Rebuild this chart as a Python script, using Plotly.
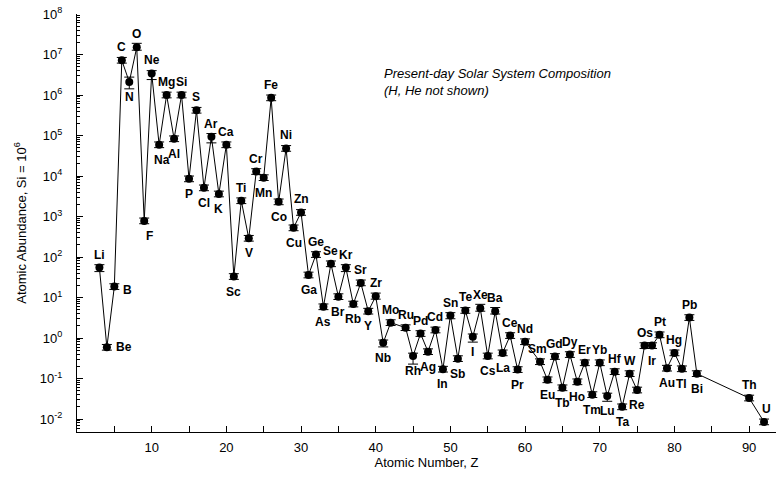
import numpy as np
import plotly.graph_objects as go

# atomic number, symbol, abundance (Si = 1e6)
z = [3, 4, 5, 6, 7, 8, 9, 10, 11, 12, 13, 14, 15, 16, 17, 18, 19, 20,
     21, 22, 23, 24, 25, 26, 27, 28, 29, 30, 31, 32, 33, 34, 35, 36, 37, 38,
     39, 40, 41, 42, 44, 45, 46, 47, 48, 49, 50, 51, 52, 53, 54, 55, 56,
     57, 58, 59, 60, 62, 63, 64, 65, 66, 67, 68, 69, 70, 71, 72, 73, 74,
     75, 76, 77, 78, 79, 80, 81, 82, 83, 90, 92]
symbols = ["Li", "Be", "B", "C", "N", "O", "F", "Ne", "Na", "Mg", "Al", "Si",
           "P", "S", "Cl", "Ar", "K", "Ca", "Sc", "Ti", "V", "Cr", "Mn", "Fe",
           "Co", "Ni", "Cu", "Zn", "Ga", "Ge", "As", "Se", "Br", "Kr", "Rb",
           "Sr", "Y", "Zr", "Nb", "Mo", "Ru", "Rh", "Pd", "Ag", "Cd", "In",
           "Sn", "Sb", "Te", "I", "Xe", "Cs", "Ba", "La", "Ce", "Pr", "Nd",
           "Sm", "Eu", "Gd", "Tb", "Dy", "Ho", "Er", "Tm", "Yb", "Lu", "Hf",
           "Ta", "W", "Re", "Os", "Ir", "Pt", "Au", "Hg", "Tl", "Pb", "Bi",
           "Th", "U"]
abundance = [55, 0.59, 18.6, 7.2e6, 2.1e6, 1.5e7, 780, 3.4e6, 5.9e4, 1.0e6,
             8.3e4, 1.0e6, 8500, 4.2e5, 5100, 9.3e4, 3600, 5.9e4, 33, 2450,
             290, 1.29e4, 9100, 8.5e5, 2300, 4.8e4, 525, 1260, 36, 115, 5.9,
             68, 10.5, 55, 6.9, 23, 4.6, 10.7, 0.76, 2.4, 1.8, 0.36, 1.29,
             0.46, 1.58, 0.17, 3.6, 0.31, 4.8, 1.07, 5.4, 0.36, 4.6, 0.43,
             1.15, 0.166, 0.81, 0.26, 0.093, 0.35, 0.059, 0.39, 0.083, 0.245,
             0.040, 0.245, 0.037, 0.148, 0.020, 0.132, 0.052, 0.65, 0.65, 1.2,
             0.18, 0.43, 0.174, 3.2, 0.132, 0.033, 0.0085]

# uncertainties in dex (default 0.07 where not listed)
err_hi = {"N": 0.12, "O": 0.1, "Ar": 0.08, "Xe": 0.1, "Ba": 0.09, "Zr": 0.08}
err_lo = {"N": 0.17, "Ne": 0.15, "Ar": 0.15, "Li": 0.1, "Kr": 0.1,
          "Rh": 0.2, "I": 0.13, "Lu": 0.13, "Nb": 0.1, "Sn": 0.08}

# labels that sit under / beside the point instead of above it
below = {"N", "F", "Na", "Al", "P", "Cl", "K", "Sc", "V", "Mn", "Co", "Cu",
         "Ga", "As", "Br", "Rb", "Y", "Nb", "Rh", "Ag", "In", "Sb", "I", "Cs",
         "La", "Pr", "Eu", "Tb", "Ho", "Tm", "Lu", "Ta", "Re", "Ir", "Au",
         "Tl", "Bi"}
right = {"Be", "B"}
nudge = {"Sm": -3, "F": 5, "Na": 3}

FONT = "Liberation Sans, Arial, sans-serif"

ab = np.array(abundance)
hi = np.array([err_hi.get(s, 0.07) for s in symbols])
lo = np.array([err_lo.get(s, 0.07) for s in symbols])

fig = go.Figure()
fig.add_trace(go.Scatter(
    x=z, y=ab, mode="lines+markers",
    line=dict(color="black", width=1),
    marker=dict(color="black", size=8),
    error_y=dict(type="data", array=ab * (10 ** hi - 1),
                 arrayminus=ab * (1 - 10 ** -lo),
                 color="black", thickness=1, width=5),
    showlegend=False,
))

for zz, s, a in zip(z, symbols, abundance):
    ann = dict(x=zz, y=np.log10(a), xref="x", yref="y", text=f"<b>{s}</b>",
               showarrow=False, xshift=nudge.get(s, 0),
               font=dict(family=FONT, size=12, color="black"))
    if s in right:
        ann.update(xanchor="left", xshift=7, yshift=-3 if s == "B" else 0)
    elif s in below:
        ann.update(yshift=-15)
    elif s == "U":
        ann.update(yshift=13, xshift=2)
    else:
        ann.update(yshift=13)
    fig.add_annotation(**ann)

fig.add_annotation(
    x=0.436, y=0.837, xref="paper", yref="paper", xanchor="left",
    yanchor="middle", align="left", showarrow=False,
    text="<i>Present-day Solar System Composition<br>(H, He not shown)</i>",
    font=dict(family=FONT, size=13, color="black"))

exps = list(range(-2, 9))
fig.update_layout(
    width=776, height=483,
    margin=dict(l=77, r=0, t=14, b=51),
    plot_bgcolor="white", paper_bgcolor="white",
    font=dict(family=FONT, size=13, color="black"),
    xaxis=dict(
        range=[0, 93.6], showgrid=False, zeroline=False, automargin=False,
        showline=True, linecolor="black", linewidth=1,
        tickvals=list(range(10, 100, 10)), ticks="inside", ticklen=6,
        tickcolor="black", ticklabelstandoff=3,
        minor=dict(dtick=5, tick0=0, ticks="inside", ticklen=6,
                   tickcolor="black", showgrid=False),
        title=dict(text="Atomic Number, Z", standoff=4,
                   font=dict(family=FONT, size=13)),
    ),
    yaxis=dict(
        type="log", range=[-2.32, 8], showgrid=False, zeroline=False,
        automargin=False,
        showline=True, linecolor="black", linewidth=1,
        tickvals=[10.0 ** e for e in exps],
        ticktext=[f"10<sup>{e}</sup>" for e in exps],
        ticks="inside", ticklen=6, tickcolor="black", ticklabelstandoff=11,
        minor=dict(dtick="D1", ticks="inside", ticklen=3,
                   tickcolor="black", showgrid=False),
        title=dict(text="Atomic Abundance, Si = 10<sup>6</sup>", standoff=10,
                   font=dict(family=FONT, size=13)),
    ),
)

# the page body has a default 8px margin; drop it so the figure sits at 0,0
fig.write_html("out.html", config={"displayModeBar": False},
               post_script="document.body.style.margin='0px';")
